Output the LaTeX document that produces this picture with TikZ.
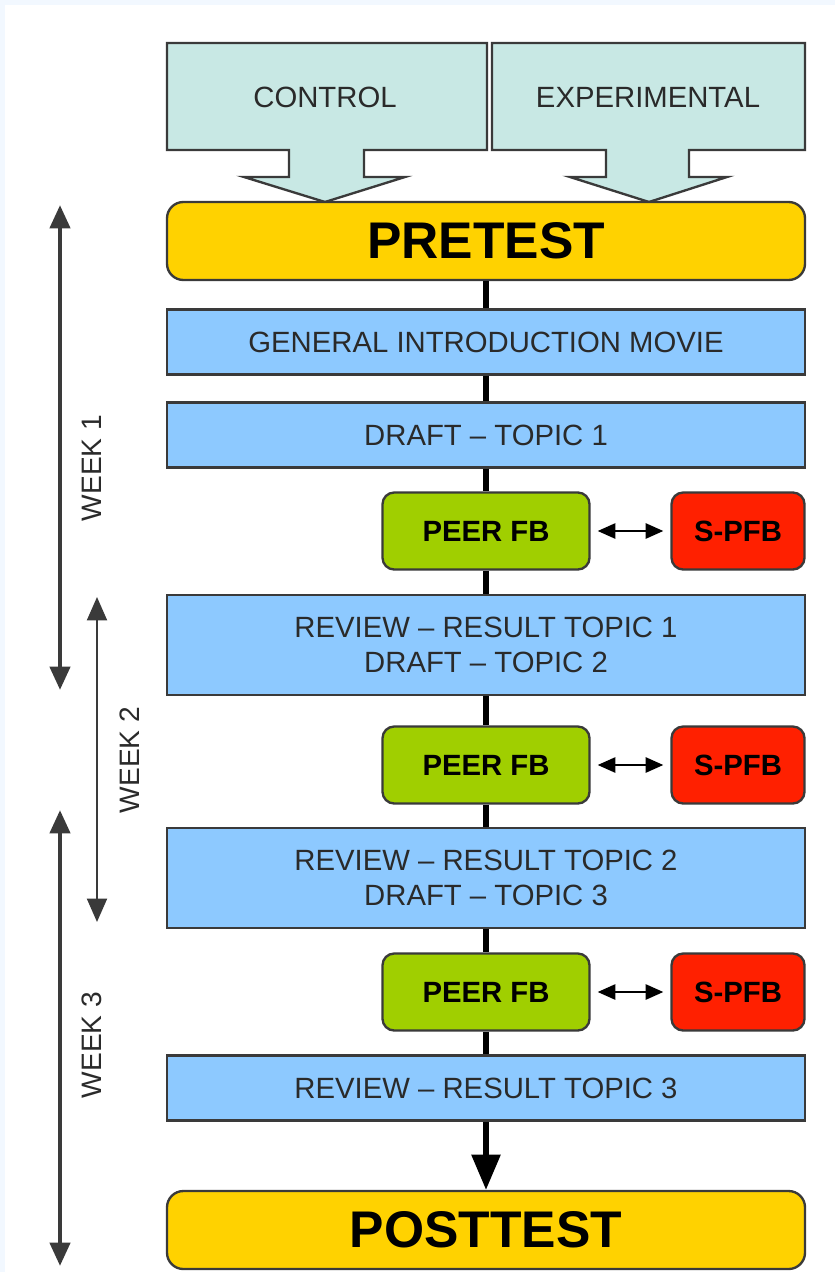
\documentclass[tikz,border=0pt]{standalone}
\usepackage{fontspec}
\setmainfont{Liberation Sans}
\usetikzlibrary{arrows.meta}

\definecolor{edge}{HTML}{3A3A3A}
\definecolor{txt}{HTML}{2A2A2A}
\definecolor{groupfill}{HTML}{C8E8E4}
\definecolor{testyellow}{HTML}{FFD200}
\definecolor{stageblue}{HTML}{8DC9FF}
\definecolor{peergreen}{HTML}{A0CF00}
\definecolor{selfred}{HTML}{FF2000}
\definecolor{frame}{HTML}{F2F8FF}

\begin{document}
\begin{tikzpicture}[%
      x=0.03cm, y=-0.03cm,
      box/.style={draw=edge, line width=2pt, inner sep=0pt, align=center, text=txt},
      group/.style={draw=edge, line width=2pt, fill=groupfill},
      grouplabel/.style={text=txt, font=\fontsize{25}{29}\selectfont},
      test/.style={box, fill=testyellow, rounded corners=14pt, text=black,
        minimum width=19.14cm, minimum height=2.34cm,
        font=\fontsize{44}{50}\selectfont\bfseries},
      stage/.style={box, fill=stageblue, minimum width=19.14cm, minimum height=1.95cm,
        font=\fontsize{25}{30}\selectfont},
      stage2/.style={stage, minimum height=3.0cm},
      peer/.style={box, fill=peergreen, rounded corners=10pt, text=black,
        minimum width=6.21cm, minimum height=2.31cm,
        font=\fontsize{25}{29}\selectfont\bfseries},
      selffb/.style={peer, fill=selfred, minimum width=3.99cm},
      link/.style={draw=black, line width=4.5pt},
      fbarrow/.style={draw=black, line width=1.5pt, shorten <=6pt, shorten >=6pt,
        {Triangle[length=15pt,width=13pt]}-{Triangle[length=15pt,width=13pt]}},
      week/.style={draw=edge, line width=4pt,
        {Triangle[length=20pt,width=17pt]}-{Triangle[length=20pt,width=17pt]}},
      weekthin/.style={week, line width=2pt},
      weeklabel/.style={rotate=90, text=txt, font=\fontsize{24}{28}\selectfont},
      ]
      \useasboundingbox (0,0) rectangle (835,1272);
      \fill [frame] (0,0) rectangle (835,1272);
      \fill [white] (5,5) rectangle (835,1272);

      \draw [group] (167,43) -- (487,43) -- (487,150) -- (364,150) -- (364,177) -- (405,177)
        -- (325,202) -- (244,177) -- (289,177) -- (289,150) -- (167,150) -- cycle;
      \draw [group] (492,43) -- (805,43) -- (805,150) -- (689,150) -- (689,177) -- (727,177)
        -- (649,202) -- (570,177) -- (606,177) -- (606,150) -- (492,150) -- cycle;
      \node [grouplabel] (ctrl) at (325,97) {CONTROL};
      \node [grouplabel] (expm) at (648,97) {EXPERIMENTAL};

      \node [test] (pre) at (486,241) {PRETEST};
      \node [stage] (gim) at (486,342) {GENERAL INTRODUCTION MOVIE};
      \node [stage] (d1) at (486,435) {DRAFT -- TOPIC 1};
      \node [peer] (p1) at (486,531) {PEER FB};
      \node [selffb] (s1) at (738,531) {S-PFB};
      \node [stage2] (r1) at (486,645) {REVIEW -- RESULT TOPIC 1\\DRAFT -- TOPIC 2};
      \node [peer] (p2) at (486,765) {PEER FB};
      \node [selffb] (s2) at (738,765) {S-PFB};
      \node [stage2] (r2) at (486,878) {REVIEW -- RESULT TOPIC 2\\DRAFT -- TOPIC 3};
      \node [peer] (p3) at (486,992) {PEER FB};
      \node [selffb] (s3) at (738,992) {S-PFB};
      \node [stage] (r3) at (486,1088) {REVIEW -- RESULT TOPIC 3};
      \node [test] (post) at (486,1230) {POSTTEST};

      \draw [link] (pre) -- (gim);
      \draw [link] (gim) -- (d1);
      \draw [link] (d1) -- (p1);
      \draw [link] (p1) -- (r1);
      \draw [link] (r1) -- (p2);
      \draw [link] (p2) -- (r2);
      \draw [link] (r2) -- (p3);
      \draw [link] (p3) -- (r3);
      \draw [link, -{Triangle[length=30pt,width=24pt]}] (r3) -- (post);

      \draw [fbarrow] (p1) -- (s1);
      \draw [fbarrow] (p2) -- (s2);
      \draw [fbarrow] (p3) -- (s3);

      \coordinate (w1top) at (60,205);
      \coordinate (w1bot) at (60,690);
      \coordinate (w2top) at (97,597);
      \coordinate (w2bot) at (97,922);
      \coordinate (w3top) at (60,810);
      \coordinate (w3bot) at (60,1266);
      \draw [week] (w1top) -- (w1bot);
      \draw [weekthin] (w2top) -- (w2bot);
      \draw [week] (w3top) -- (w3bot);
      \node [weeklabel] (wk1) at (92,468) {WEEK 1};
      \node [weeklabel] (wk2) at (130,760) {WEEK 2};
      \node [weeklabel] (wk3) at (92,1045) {WEEK 3};
\end{tikzpicture}
\end{document}
